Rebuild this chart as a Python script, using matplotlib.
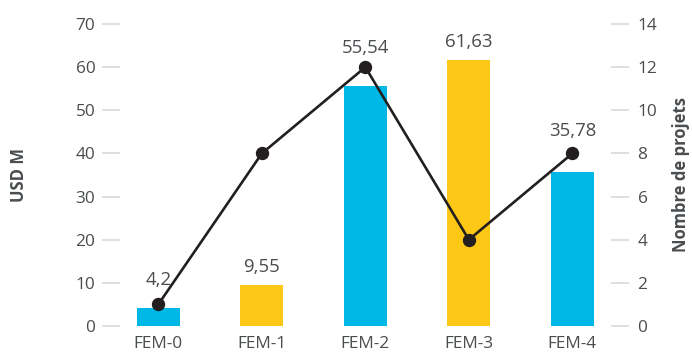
import matplotlib
matplotlib.use("Agg")
import matplotlib.pyplot as plt
import numpy as np

plt.rcParams['font.family'] = ['Open Sans', 'DejaVu Sans']

categories = ["FEM-0", "FEM-1", "FEM-2", "FEM-3", "FEM-4"]
usd_m = [4.2, 9.55, 55.54, 61.63, 35.78]
value_labels = ["4,2", "9,55", "55,54", "61,63", "35,78"]
projects = [1, 8, 12, 4, 8]
left_ticks = [0, 10, 20, 30, 40, 50, 60, 70]
right_ticks = [0, 2, 4, 6, 8, 10, 12, 14]

bar_colors = ["#00B8E6", "#FDC716", "#00B8E6", "#FDC716", "#00B8E6"]
label_offsets_px = [23, 13, 33, 13, 36]

text_color = "#4a4d50"
tick_color = "#d5d8db"

fig = plt.figure(figsize=(6.92, 3.54), dpi=100)
ax = fig.add_axes([120/692, 1 - 326/354, 490.7/692, 302/354])
x = np.arange(len(categories))
ax.bar(x, usd_m, width=0.415, color=bar_colors, zorder=1)
ax.set_xlim(-0.37, 4.37)
ax.set_ylim(0, 70)
ax.set_yticks(left_ticks)
ax.set_xticks(x)
ax.set_xticklabels(categories)
for s in ax.spines.values():
    s.set_visible(False)
ax.tick_params(axis='y', length=13.3, width=1.1, color=tick_color, pad=4.5,
               labelsize=12.4, labelcolor=text_color)
ax.tick_params(axis='x', length=0, pad=7.5, labelsize=12.4, labelcolor=text_color)
ax.set_ylabel("USD M", fontsize=12, fontweight='bold', color=text_color)
ax.yaxis.set_label_coords(-(120 - 28) / 490.7, 0.5)

for xi, v, lab, off in zip(x, usd_m, value_labels, label_offsets_px):
    ax.annotate(lab, (xi, v), xytext=(0, off), textcoords='offset pixels',
                ha='center', va='baseline', fontsize=13.4, color=text_color, zorder=5)

ax2 = ax.twinx()
ax2.plot(x, projects, color="#231f20", linewidth=1.9, marker='o', markersize=8.6,
         zorder=4)
ax2.set_ylim(0, 14)
ax2.set_yticks(right_ticks)
for s in ax2.spines.values():
    s.set_visible(False)
ax2.tick_params(axis='y', length=13.3, width=1.1, color=tick_color, pad=6,
                labelsize=12.4, labelcolor=text_color)
ax2.set_ylabel("Nombre de projets", fontsize=12, fontweight='bold', color=text_color)
ax2.yaxis.set_label_coords((672 - 120) / 490.7, 0.5)

fig.savefig("out.png", dpi=100)
